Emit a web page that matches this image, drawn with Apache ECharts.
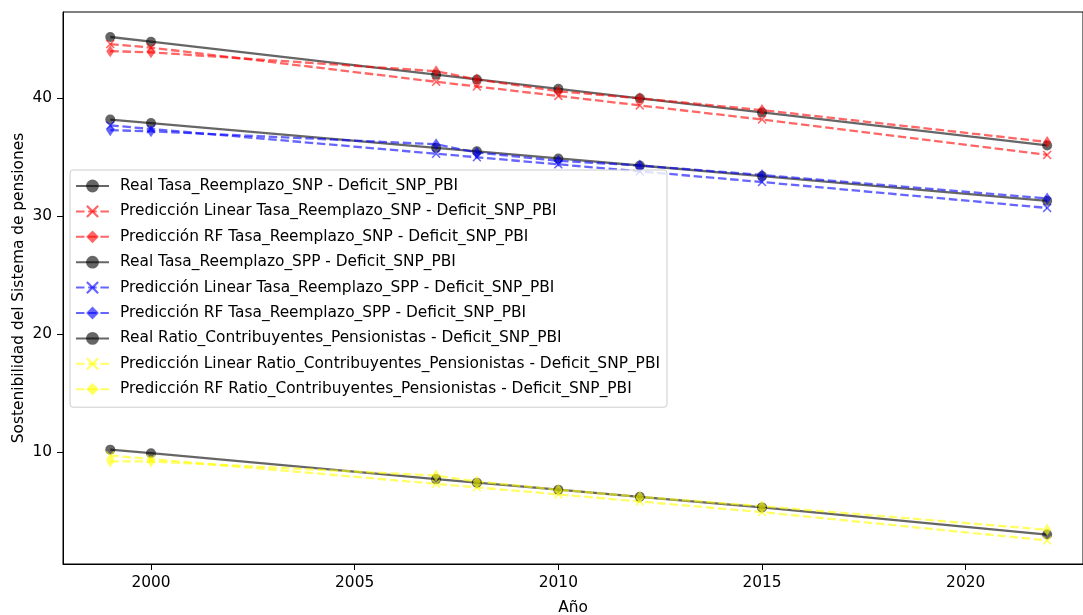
<!DOCTYPE html>
<html>
<head>
<meta charset="utf-8">
<script src="https://cdn.jsdelivr.net/npm/echarts@6/dist/echarts.min.js"></script>
<style>
html,body{margin:0;padding:0;background:#fff;}
#chart{width:1083px;height:615px;}
</style>
</head>
<body>
<div id="chart"></div>
<script>
const years = [1999, 2000, 2007, 2008, 2010, 2012, 2015, 2022];
const realSNP = [45.2, 44.8, 42.0, 41.6, 40.8, 40.0, 38.8, 36.0];
const linSNP  = [44.6, 44.3, 41.4, 41.0, 40.2, 39.4, 38.2, 35.2];
const rfSNP   = [44.0, 43.9, 42.3, 41.6, 40.6, 40.0, 39.0, 36.3];
const realSPP = [38.2, 37.9, 35.8, 35.5, 34.9, 34.3, 33.4, 31.3];
const linSPP  = [37.7, 37.4, 35.3, 35.0, 34.4, 33.8, 32.9, 30.7];
const rfSPP   = [37.3, 37.2, 36.1, 35.4, 34.7, 34.3, 33.5, 31.5];
const realRatio = [10.2, 9.9, 7.7, 7.4, 6.8, 6.2, 5.3, 3.0];
const linRatio  = [9.7, 9.4, 7.3, 7.0, 6.4, 5.8, 4.9, 2.5];
const rfRatio   = [9.2, 9.2, 8.0, 7.5, 6.8, 6.2, 5.4, 3.4];
const xTicks = [2000, 2005, 2010, 2015, 2020];
const yTicks = [10, 20, 30, 40];

const FONT = 'DejaVu Sans';
const FS = 15.4;
const XPATH = 'path://M0,1.2L1.2,0L5,3.8L8.8,0L10,1.2L6.2,5L10,8.8L8.8,10L5,6.2L1.2,10L0,8.8L3.8,5Z';
const dash = [8.5, 3.7];

function pairs(vals){ return years.map((y,i)=>[y, vals[i]]); }

function mk(name, vals, color, kind){
  const s = {
    name: name,
    type: 'line',
    data: pairs(vals),
    color: color,
    lineStyle: {color: color, width: 2.3, type: kind === 'real' ? 'solid' : dash},
    itemStyle: {color: color},
    showSymbol: true,
    animation: false,
    emphasis: {disabled: true}
  };
  if (kind === 'real') { s.symbol = 'circle'; s.symbolSize = 10; }
  else if (kind === 'lin') { s.symbol = XPATH; s.symbolSize = 9; }
  else { s.symbol = 'diamond'; s.symbolSize = [8, 12]; }
  return s;
}

const K = 'rgba(0,0,0,0.6)', R = 'rgba(255,0,0,0.6)', B = 'rgba(0,0,255,0.6)', Y = 'rgba(255,255,0,0.6)';
const series = [
  mk('Real Tasa_Reemplazo_SNP - Deficit_SNP_PBI', realSNP, K, 'real'),
  mk('Predicción Linear Tasa_Reemplazo_SNP - Deficit_SNP_PBI', linSNP, R, 'lin'),
  mk('Predicción RF Tasa_Reemplazo_SNP - Deficit_SNP_PBI', rfSNP, R, 'rf'),
  mk('Real Tasa_Reemplazo_SPP - Deficit_SNP_PBI', realSPP, K, 'real'),
  mk('Predicción Linear Tasa_Reemplazo_SPP - Deficit_SNP_PBI', linSPP, B, 'lin'),
  mk('Predicción RF Tasa_Reemplazo_SPP - Deficit_SNP_PBI', rfSPP, B, 'rf'),
  mk('Real Ratio_Contribuyentes_Pensionistas - Deficit_SNP_PBI', realRatio, K, 'real'),
  mk('Predicción Linear Ratio_Contribuyentes_Pensionistas - Deficit_SNP_PBI', linRatio, Y, 'lin'),
  mk('Predicción RF Ratio_Contribuyentes_Pensionistas - Deficit_SNP_PBI', rfRatio, Y, 'rf')
];

const chart = echarts.init(document.getElementById('chart'), null, {renderer: 'canvas'});
chart.setOption({
  animation: false,
  backgroundColor: '#fff',
  textStyle: {fontFamily: FONT},
  grid: {left: 63, right: 0, top: 12, bottom: 51, show: true, borderColor: '#000', borderWidth: 1,
         containLabel: false, outerBoundsMode: 'none'},
  xAxis: {
    type: 'value', min: 1997.84, max: 2022.88,
    name: 'Año', nameLocation: 'middle', nameGap: 36, nameMoveOverlap: false,
    nameTextStyle: {fontFamily: FONT, fontSize: FS, color: '#000'},
    axisLine: {show: true, onZero: false, lineStyle: {color: '#000', width: 1}},
    axisTick: {show: true, length: 6, lineStyle: {color: '#000'}, customValues: xTicks},
    axisLabel: {fontFamily: FONT, fontSize: FS, color: '#000', margin: 11, customValues: xTicks, formatter: v => String(v)},
    splitLine: {show: false}
  },
  yAxis: {
    type: 'value', min: 0.5, max: 47.32,
    name: 'Sostenibilidad del Sistema de pensiones', nameLocation: 'middle', nameGap: 37, nameMoveOverlap: false,
    nameTextStyle: {fontFamily: FONT, fontSize: FS, color: '#000'},
    axisLine: {show: true, onZero: false, lineStyle: {color: '#000', width: 1}},
    axisTick: {show: true, length: 6, lineStyle: {color: '#000'}, customValues: yTicks},
    axisLabel: {fontFamily: FONT, fontSize: FS, color: '#000', margin: 11, customValues: yTicks, formatter: v => String(v)},
    splitLine: {show: false}
  },
  legend: {
    show: true, orient: 'vertical', left: 70, top: 170,
    padding: [8, 7, 10, 5],
    itemWidth: 33, itemHeight: 16, itemGap: 9.4,
    backgroundColor: 'rgba(255,255,255,0.8)',
    borderColor: '#cccccc', borderWidth: 1, borderRadius: 3,
    textStyle: {fontFamily: FONT, fontSize: FS, color: '#000', padding: [0, 0, 0, 6], lineHeight: 16},
    selectedMode: false
  },
  series: series
});
</script>
</body>
</html>
